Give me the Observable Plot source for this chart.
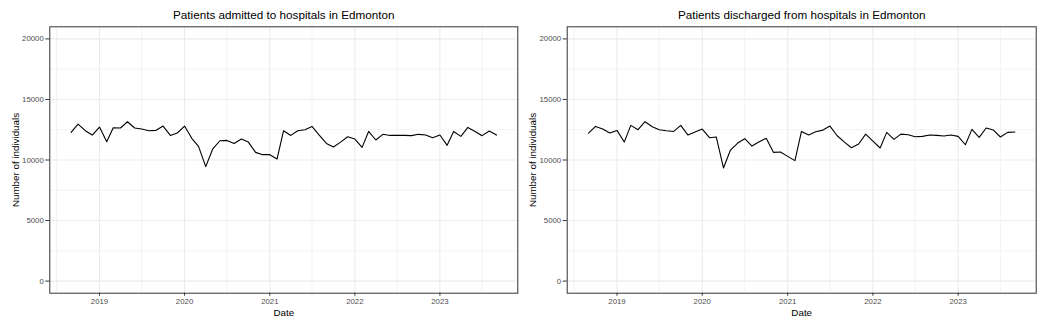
<!DOCTYPE html>
<html>
<head>
<meta charset="utf-8">
<script src="https://cdn.jsdelivr.net/npm/d3@7"></script>
<script src="https://cdn.jsdelivr.net/npm/@observablehq/plot@0.6"></script>
<style>
  html, body { margin: 0; padding: 0; background: #ffffff; }
  #wrap { display: flex; width: 1046px; height: 327px; }
  #wrap > div { width: 523px; height: 327px; }
  svg { display: block; }
</style>
</head>
<body>
<div id="wrap"><div id="left"></div><div id="right"></div></div>
<script>
// Months (first of month)
const months = [
  "2018-09","2018-10","2018-11","2018-12",
  "2019-01","2019-02","2019-03","2019-04","2019-05","2019-06","2019-07","2019-08","2019-09","2019-10","2019-11","2019-12",
  "2020-01","2020-02","2020-03","2020-04","2020-05","2020-06","2020-07","2020-08","2020-09","2020-10","2020-11","2020-12",
  "2021-01","2021-02","2021-03","2021-04","2021-05","2021-06","2021-07","2021-08","2021-09","2021-10","2021-11","2021-12",
  "2022-01","2022-02","2022-03","2022-04","2022-05","2022-06","2022-07","2022-08","2022-09","2022-10","2022-11","2022-12",
  "2023-01","2023-02","2023-03","2023-04","2023-05","2023-06","2023-07","2023-08","2023-09"
];

const admitted = [
  12280, 12970, 12420, 12060,
  12720, 11510, 12660, 12640, 13160, 12640, 12560, 12420, 12450, 12800, 12030, 12230,
  12800, 11790, 11130, 9450, 10910, 11590, 11620, 11370, 11730, 11480, 10630, 10440,
  10440, 10080, 12420, 12030, 12420, 12500, 12770, 12060, 11370, 11070, 11480, 11920,
  11730, 11040, 12360, 11650, 12120, 12030, 12030, 12030, 12010, 12120, 12060, 11840,
  12060, 11210, 12360, 11950, 12690, 12360, 12010, 12390, 12060
];

const discharged = [
  12225, 12775, 12555, 12225,
  12445, 11480, 12860, 12500, 13160, 12750, 12500, 12420, 12360, 12860, 12060, 12310,
  12555, 11840, 11900, 9340, 10820, 11400, 11760, 11150, 11510, 11790, 10630, 10660,
  10300, 9950, 12360, 12060, 12335, 12470, 12800, 12005, 11480, 11015, 11320, 12140,
  11565, 10990, 12280, 11700, 12140, 12090, 11920, 11950, 12060, 12030, 11980, 12060,
  11950, 11260, 12530, 11870, 12640, 12470, 11900, 12280, 12310
];

const titles = ["Patients admitted to hospitals in Edmonton", "Patients discharged from hospitals in Edmonton"];
const xTitle = "Date";
const yTitle = "Number of individuals";
const yTicks = [0, 5000, 10000, 15000, 20000];
const yMinor = [2500, 7500, 12500, 17500];
const xTickYears = [2019, 2020, 2021, 2022, 2023];
const xMinorYears = [2018, 2019, 2020, 2021, 2022, 2023];

const parseMonth = d3.utcParse("%Y-%m");
const dates = months.map(parseMonth);
const xMajor = xTickYears.map(y => new Date(Date.UTC(y, 0, 1)));
const xMinor = xMinorYears.map(y => new Date(Date.UTC(y, 6, 1)));

// ggplot-like 5% expansion
const d0 = dates[0], d1 = dates[dates.length - 1];
const pad = (d1 - d0) * 0.05;
const xDomain = [new Date(+d0 - pad), new Date(+d1 + pad)];
const yDomain = [0 - 1000, 20000 + 1000];

const FONT = "'Liberation Sans', Arial, Helvetica, sans-serif";

function panel(values, title, mLeft, mRight) {
  const data = dates.map((d, i) => ({date: d, value: values[i]}));
  return Plot.plot({
    width: 523,
    height: 327,
    marginLeft: mLeft,
    marginRight: mRight,
    marginTop: 26.3,
    marginBottom: 34.3,
    style: {fontFamily: FONT, background: "#ffffff", overflow: "visible"},
    x: {type: "utc", domain: xDomain},
    y: {domain: yDomain},
    marks: [
      Plot.gridX(xMinor, {stroke: "#EBEBEB", strokeOpacity: 1, strokeWidth: 0.6}),
      Plot.gridY(yMinor, {stroke: "#EBEBEB", strokeOpacity: 1, strokeWidth: 0.6}),
      Plot.gridX(xMajor, {stroke: "#EBEBEB", strokeOpacity: 1, strokeWidth: 1.1}),
      Plot.gridY(yTicks, {stroke: "#EBEBEB", strokeOpacity: 1, strokeWidth: 1.1}),
      Plot.line(data, {x: "date", y: "value", stroke: "#000000", strokeWidth: 1.1}),
      Plot.frame({stroke: "#333333", strokeWidth: 1}),
      Plot.axisX(xMajor, {
        tickSize: 3, tickPadding: 2, tickFormat: d3.utcFormat("%Y"),
        label: null, stroke: "#333333", fill: "#4D4D4D", fontSize: 7.8
      }),
      Plot.axisY(yTicks, {
        tickSize: 4, tickPadding: 2, tickFormat: d => String(d),
        label: null, stroke: "#333333", fill: "#4D4D4D", fontSize: 7.8
      }),
      Plot.text([title], {frameAnchor: "top", lineAnchor: "middle", textAnchor: "middle", dy: -11.5, fontSize: 11.7, fill: "#000000", text: d => d}),
      Plot.text([xTitle], {frameAnchor: "bottom", lineAnchor: "middle", textAnchor: "middle", dy: 19.2, fontSize: 9.8, fill: "#000000", text: d => d}),
      Plot.text([yTitle], {frameAnchor: "left", lineAnchor: "middle", textAnchor: "middle", dx: -34.1, rotate: -90, fontSize: 9.8, fill: "#000000", text: d => d})
    ]
  });
}

document.getElementById("left").appendChild(panel(admitted, titles[0], 49.3, 5.7));
document.getElementById("right").appendChild(panel(discharged, titles[1], 43.7, 10.3));
</script>
</body>
</html>
